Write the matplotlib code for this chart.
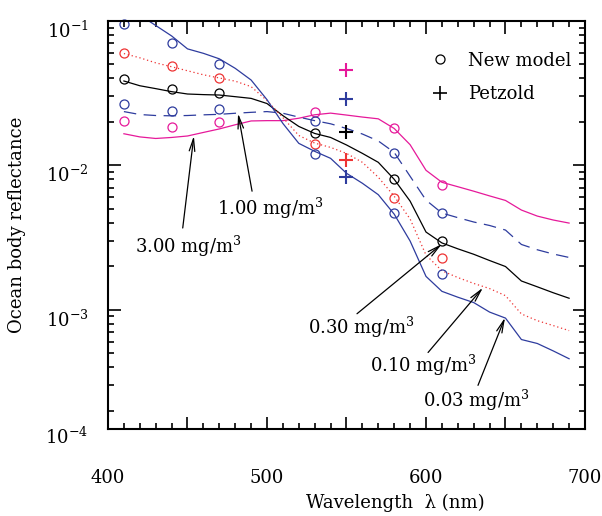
import numpy as np
import matplotlib
matplotlib.use("Agg")
from matplotlib import pyplot as plt
from matplotlib.lines import Line2D
from matplotlib.transforms import ScaledTranslation
from matplotlib.ticker import MultipleLocator, FixedLocator, LogLocator, NullFormatter, FuncFormatter

# model curves, 410-690 nm
wl = [410, 420, 430, 440, 450, 460, 470, 480, 490, 500, 510, 520, 530, 540, 550,
      560, 570, 580, 590, 600, 610, 620, 630, 640, 650, 660, 670, 680, 690]

r_300 = [0.01655, 0.01574, 0.01535, 0.01560, 0.01597, 0.0169, 0.01787, 0.0191, 0.0203, 0.0204,
         0.0204, 0.0212, 0.0224, 0.0230, 0.0223, 0.0216, 0.0210, 0.0180, 0.0139, 0.00924,
         0.00763, 0.00711, 0.00662, 0.00614, 0.00571, 0.00490, 0.00445, 0.00418, 0.00398]
r_100 = [0.02357, 0.02249, 0.02214, 0.02203, 0.02214, 0.02238, 0.02256, 0.02295, 0.02329, 0.02357,
         0.02295, 0.02158, 0.0204, 0.0194, 0.0180, 0.01648, 0.01475, 0.01229, 0.00840, 0.00574,
         0.00467, 0.00434, 0.00405, 0.00383, 0.00356, 0.00283, 0.00260, 0.00243, 0.00230]
r_030 = [0.0384, 0.0356, 0.0340, 0.0324, 0.0312, 0.0309, 0.0307, 0.0299, 0.0291, 0.0268,
         0.0221, 0.0186, 0.01663, 0.01560, 0.01384, 0.01210, 0.01049, 0.00800, 0.00565, 0.00345,
         0.00290, 0.00264, 0.00242, 0.00219, 0.00199, 0.00158, 0.00144, 0.00131, 0.00120]
r_010 = [0.0595, 0.0556, 0.0513, 0.0482, 0.0452, 0.0424, 0.0403, 0.0383, 0.0351, 0.0281,
         0.0214, 0.0161, 0.01426, 0.01331, 0.01210, 0.01049, 0.00827, 0.00611, 0.00425, 0.00239,
         0.00186, 0.00167, 0.00152, 0.00140, 0.00125, 0.000934, 0.000839, 0.000776, 0.000716]
r_003 = [0.128, 0.110, 0.0931, 0.0788, 0.0641, 0.0597, 0.0547, 0.0470, 0.0390, 0.0285,
         0.0195, 0.0142, 0.0125, 0.01118, 0.00881, 0.00751, 0.00626, 0.00459, 0.00299, 0.00170,
         0.00134, 0.00122, 0.00112, 0.000962, 0.000874, 0.000621, 0.000583, 0.000518, 0.000457]

# new model (circles)
wl_pts = [410, 440, 470, 530, 580, 610]
c_300 = [0.0202, 0.01836, 0.0199, 0.0233, 0.01808, 0.00728]
c_100 = [0.0266, 0.0239, 0.0246, 0.0202, 0.01216, 0.00464]
c_030 = [0.0394, 0.0336, 0.0319, 0.0167, 0.00804, 0.00298]
c_010 = [0.0598, 0.0489, 0.0405, 0.0140, 0.00595, 0.00227]
c_003 = [0.0958, 0.0704, 0.0500, 0.01204, 0.00467, 0.00178]

# Petzold (crosses) at 550 nm, order 3.00, 1.00, 0.30, 0.10, 0.03
wl_petz = 550
petz = [0.0457, 0.0287, 0.01689, 0.01083, 0.0083]

labels = ["3.00", "1.00", "0.30", "0.10", "0.03"]

C_mag = "#E6199A"
C_blue = "#2E3C9E"
C_red = "#EE3333"
C_blk = "black"

plt.rcParams['font.family'] = ['DejaVu Serif']
plt.rcParams['mathtext.fontset'] = 'dejavuserif'
FS = 13

fig = plt.figure(figsize=(6.02, 5.16), dpi=100)
ax = fig.add_axes([108/602, 1 - 429/516, 477/602, 408/516])

curves = [(r_300, C_mag, '-'), (r_100, C_blue, (0, (10, 6))), (r_030, C_blk, '-'),
          (r_010, C_red, (0, (1, 2.2))), (r_003, C_blue, '-')]
for vals, col, ls in curves:
    ax.plot(wl, vals, color=col, lw=0.9, linestyle=ls)

circles = [(c_300, C_mag), (c_100, C_blue), (c_030, C_blk), (c_010, C_red), (c_003, C_blue)]
for vals, col in circles:
    ax.plot(wl_pts, vals, linestyle='none', marker='o', ms=6.5, mfc='none', mec=col,
            mew=0.9, clip_on=False)

petz_cols = [C_mag, C_blue, C_blk, C_red, C_blue]
for v, col in zip(petz, petz_cols):
    ax.plot([wl_petz], [v], linestyle='none', marker='+', ms=10, mew=1.5, color=col)

ax.set_yscale('log')
ax.set_xlim(400, 700)
ax.set_ylim(1.49e-4, 0.1)

ax.xaxis.set_major_locator(MultipleLocator(50))
ax.xaxis.set_minor_locator(MultipleLocator(10))
ax.xaxis.set_major_formatter(FuncFormatter(lambda v, p: "%d" % v if v % 100 == 0 else ""))
ax.yaxis.set_major_locator(FixedLocator([1e-3, 1e-2, 1e-1]))
ax.yaxis.set_minor_locator(LogLocator(base=10, subs=np.arange(2, 10)))
ax.yaxis.set_minor_formatter(NullFormatter())
ax.yaxis.set_major_formatter(FuncFormatter(lambda v, p: r"$10^{%d}$" % round(np.log10(v))))

ax.tick_params(which='both', direction='in', top=True, right=True, width=1.2)
ax.tick_params(which='major', length=9, labelsize=FS)
ax.tick_params(axis='x', which='major', pad=29)
ax.tick_params(axis='y', which='major', pad=14)
ax.tick_params(which='minor', length=4.5)
for s in ax.spines.values():
    s.set_linewidth(1.5)

# y labels sit a little below their ticks in the reference
shift = ScaledTranslation(0, -6/72, fig.dpi_scale_trans)
for t in ax.get_yticklabels():
    t.set_transform(t.get_transform() + shift)
# reference prints 10^-4 at the bottom of the frame
ax.text(-0.042, 0.0, r"$10^{-4}$", transform=ax.transAxes + shift, ha='right', va='center',
        fontsize=FS)

ax.set_ylabel("Ocean body reflectance", fontsize=FS, labelpad=14)
fig.text(395/602, 1 - 503/516, "Wavelength  \u03bb (nm)", ha='center', va='center', fontsize=FS)

# legend
h = [Line2D([], [], ls='none', marker='o', ms=6.5, mfc='none', mec='black', mew=0.9),
     Line2D([], [], ls='none', marker='+', ms=10, mew=1.2, color='black')]
ax.legend(h, ["New model", "Petzold"], loc='upper left', bbox_to_anchor=(0.677, 0.925),
          frameon=False, fontsize=FS, handlelength=1.0, handletextpad=1.05,
          labelspacing=0.85, borderpad=0, borderaxespad=0)

# concentration labels with arrows
arrow = dict(arrowstyle='->,head_length=0.9,head_width=0.2', color='black', lw=0.9,
             shrinkA=0, shrinkB=0)
notes = [((454, 0.0160), (447, 0.00368), (417, 0.00276)),
         ((481.8, 0.0229), (490.6, 0.00662), (468.6, 0.00505)),
         ((610, 0.00285), (556.6, 0.000937), (525.8, 0.000752)),
         ((635.8, 0.00142), (601.3, 0.000505), (564.8, 0.000411)),
         ((649.7, 0.000881), (632.7, 0.000299), (598.1, 0.000235))]
for lab, (tip, tail, tpos) in zip(labels, notes):
    ax.annotate("", xy=tip, xytext=tail, arrowprops=arrow)
    ax.text(tpos[0], tpos[1], lab + r" mg/m$^3$", ha='left', va='center', fontsize=FS)

fig.savefig("out.png", dpi=100)
